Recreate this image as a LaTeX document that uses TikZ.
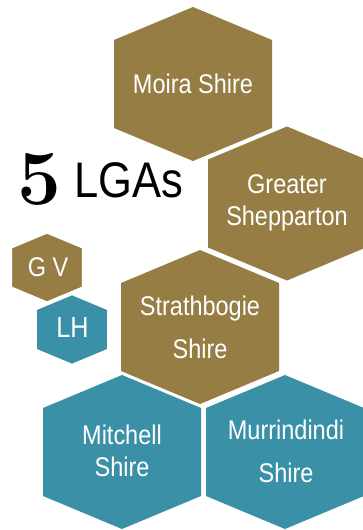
\documentclass[tikz,border=0pt]{standalone}
\usepackage{fontspec}
\usepackage{tikz}
\newfontfamily\hexfont{Liberation Sans}[FakeStretch=0.87]
\definecolor{gold}{HTML}{967D43}
\definecolor{teal}{HTML}{3A91A7}
\tikzset{cell/.style={text=white, align=center, inner sep=0pt, font=\hexfont\fontsize{27}{32}\selectfont}}
% hexagon: centre x, centre y, size, colour
\newcommand{\hexcell}[4]{%
  \fill[#4, shift={(#1,#2)}, scale=#3] (0,-77) -- (79,-44) -- (79,44) -- (0,77) -- (-79,44) -- (-79,-44) -- cycle;}

\begin{document}
\begin{tikzpicture}[x=1pt, y=-1pt]
                \useasboundingbox (0,0) rectangle (363,530);
                \hexcell{193}{84}{1}{gold}
                \hexcell{287}{203.5}{1}{gold}
                \hexcell{200}{327}{1}{gold}
                \hexcell{122}{452}{1}{teal}
                \hexcell{285}{452}{1}{teal}
                \hexcell{72}{329.5}{0.443}{teal}
                \draw[gold, fill=gold, line width=3pt, draw=white, shift={(47,267.5)}, scale=0.46] (0,-77) -- (79,-44) -- (79,44) -- (0,77) -- (-79,44) -- (-79,-44) -- cycle;
                \node[cell] (moira) at (193,84) {Moira Shire};
                \node[cell] (shepparton) at (287,203) {Greater\\Shepparton};
                \node[cell] (strathbogie) at (200,327) {Strathbogie\\[11pt]Shire};
                \node[cell] (mitchell) at (122,451) {Mitchell\\Shire};
                \node[cell] (murrindindi) at (286,451.5) {Murrindindi\\[11pt]Shire};
                \node[cell] (gv) at (48,267.5) {G V};
                \node[cell, font=\hexfont\fontsize{29}{32}\selectfont] (lh) at (72.5,327.5) {LH};
                \node[anchor=base west, inner sep=0pt, font=\hexfont\fontsize{50}{50}\selectfont] (lgas) at (17,197)
                    {\makebox[57pt][l]{\rmfamily\bfseries\fontsize{78}{78}\selectfont\raisebox{-7pt}{5}}LGAs};
            \end{tikzpicture}
\end{document}
